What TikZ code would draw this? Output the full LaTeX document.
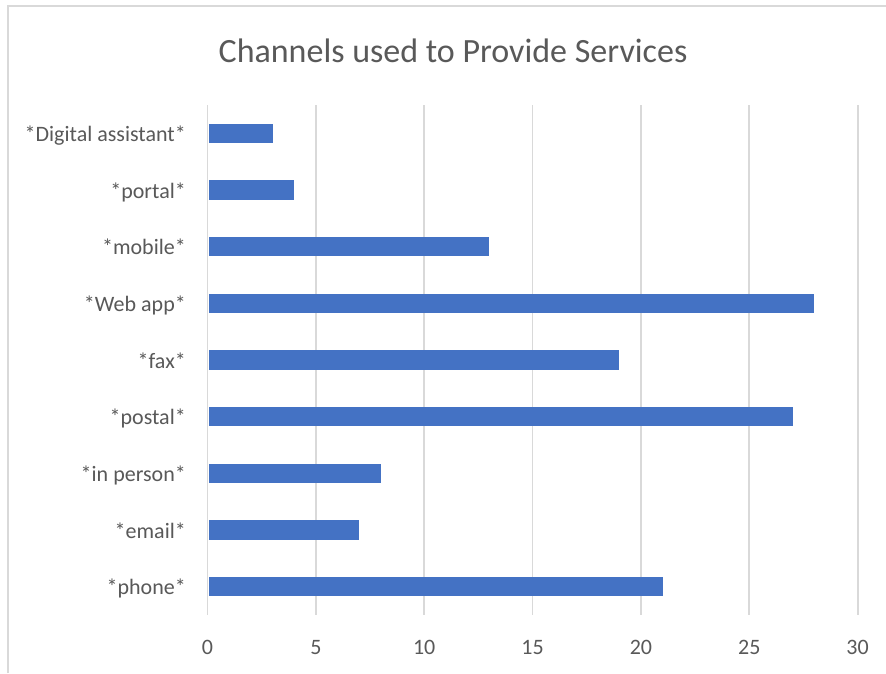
\documentclass[tikz,border=0pt]{standalone}
\usepackage{fontspec}
\setmainfont{Carlito}
\definecolor{barblue}{HTML}{4472C4}
\definecolor{txtgray}{HTML}{595959}
\definecolor{gridgray}{HTML}{D9D9D9}
\begin{document}
\begin{tikzpicture}[x=1pt,y=-1pt,
  frame/.style={draw=gridgray,line width=1.5pt},
  gridline/.style={draw=gridgray,line width=1.8pt},
  bar/.style={fill=barblue,draw=none},
  catlabel/.style={anchor=base east,inner sep=0pt,text=txtgray,font=\fontsize{22}{22}\selectfont},
  ticklabel/.style={anchor=base,inner sep=0pt,text=txtgray,font=\fontsize{22}{22}\selectfont},
  titlestyle/.style={anchor=base,inner sep=0pt,text=txtgray,font=\fontsize{34}{34}\selectfont}]
\useasboundingbox (0,0) rectangle (886,673);
\fill[white] (0,0) rectangle (886,673);
% frame
\draw[frame] (8,673) -- (8,6) -- (886,6);
% title
\node[titlestyle] (title) at (453,62.5) {Channels used to Provide Services};
% gridlines and tick labels
\foreach \v [count=\k] in {0,5,10,15,20,25,30} {
  \draw[gridline] ({207.5+\v*21.67},105) -- ({207.5+\v*21.67},615);
  \node[ticklabel] (tick\k) at ({207.5+\v*21.67},654.5) {\v};
}
% bars and category labels
\foreach \lab/\val [count=\i from 0] in {{*Digital assistant*}/3,{*portal*}/4,{*mobile*}/13,{*Web app*}/28,{*fax*}/19,{*postal*}/27,{*in person*}/8,{*email*}/7,{*phone*}/21} {
  \pgfmathsetmacro{\yc}{105+56.667*(\i+0.5)}
  \fill[bar] (208.5,\yc-9.6) rectangle ({207.5+\val*21.67},\yc+9.6);
  \node[catlabel] (cat\i) at (186,\yc+8) {\lab};
}
\end{tikzpicture}
\end{document}
